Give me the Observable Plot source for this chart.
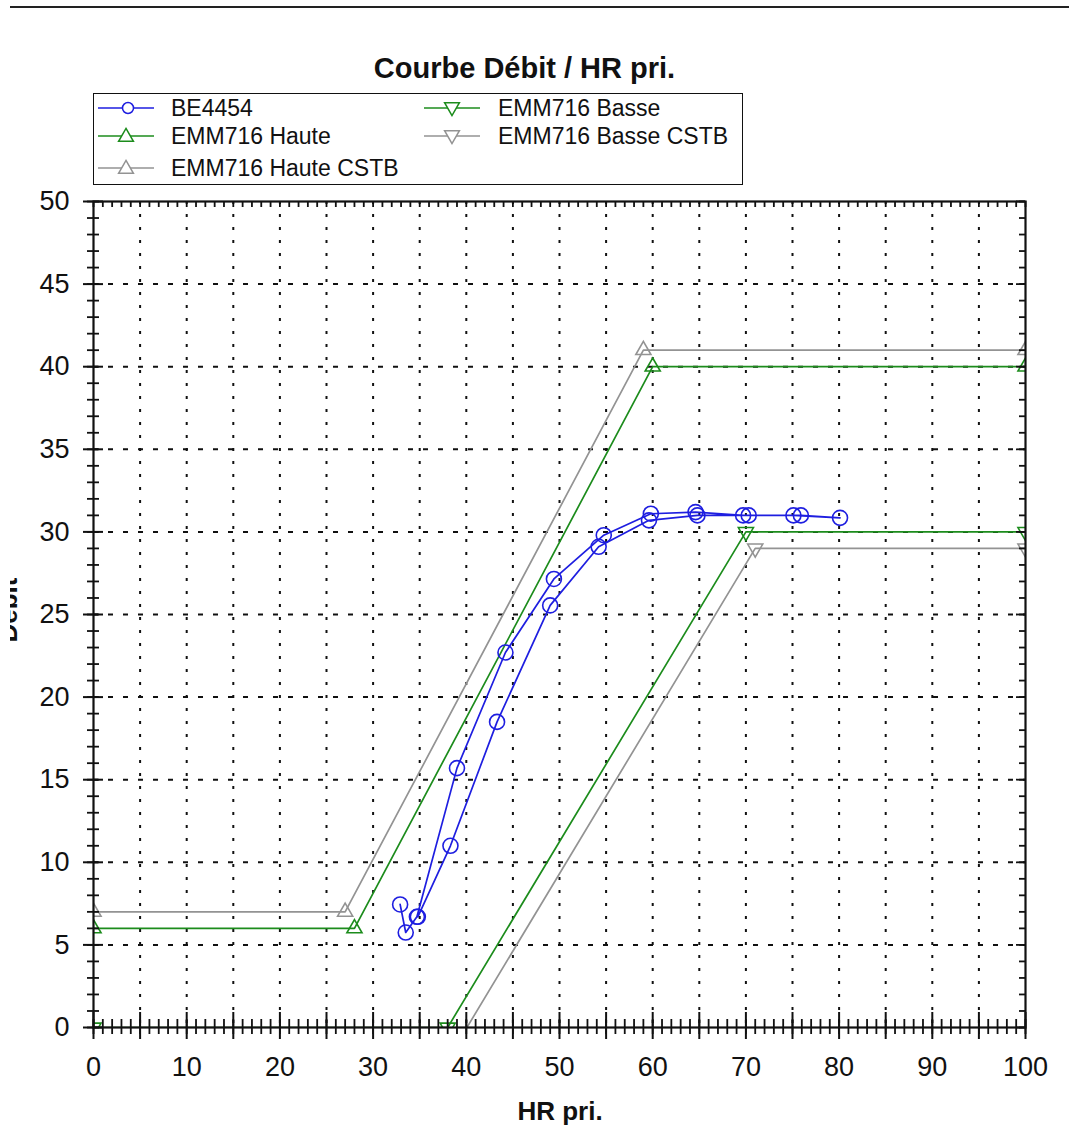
<!DOCTYPE html>
<html>
<head>
<meta charset="utf-8">
<script src="https://cdn.jsdelivr.net/npm/d3@7"></script>
<script src="https://cdn.jsdelivr.net/npm/@observablehq/plot@0.6"></script>
<style>
  html, body { margin: 0; padding: 0; background: white; }
  #wrap { position: relative; width: 1069px; height: 1138px; overflow: hidden; font-family: "Liberation Sans", Arial, sans-serif; }
  #topline { position: absolute; left: 10px; right: 0; top: 6px; height: 0; border-top: 2px solid #222; }
  #title { position: absolute; left: 0; width: 1049px; top: 52px; text-align: center; font-weight: bold; font-size: 29px; color: #111; }
  #legend { position: absolute; left: 93px; top: 93px; width: 648px; height: 90px; border: 1.6px solid #111; background: white; }
  .lg { position: absolute; font-size: 23px; color: #111; line-height: 26px; white-space: nowrap; }
  .lg svg { position: absolute; }
  #ylab { position: absolute; left: 10px; top: 560px; width: 8px; height: 100px; overflow: hidden; }
  #ylab div { position: absolute; left: -52px; top: 37px; width: 100px; height: 26px; line-height: 26px; font-size: 26px; font-weight: bold; text-align: center; transform: rotate(-90deg); color: #111; }
  #xlab { position: absolute; left: 0; width: 1120px; top: 1096px; text-align: center; font-weight: bold; font-size: 26px; color: #111; }
</style>
</head>
<body>
<div id="wrap">
  <div id="topline"></div>
  <div id="title"></div>
  <div id="legend"></div>
  <div id="ylab"><div></div></div>
  <div id="xlab"></div>
</div>
<script>
// ---- data ----
const titleText = "Courbe Débit / HR pri.";
const xLabel = "HR pri.";
const yLabel = "Débit";

const seriesNames = ["BE4454", "EMM716 Haute", "EMM716 Haute CSTB", "EMM716 Basse", "EMM716 Basse CSTB"];

const be4454X = [32.9, 33.5, 34.7, 39.0, 44.2, 49.4, 54.75, 59.8, 64.6, 69.7, 75.1, 80.1, 75.9, 70.3, 64.8, 59.6, 54.2, 49.0, 43.3, 38.3, 34.8];
const be4454Y = [7.45, 5.75, 6.7, 15.7, 22.7, 27.15, 29.8, 31.1, 31.2, 31.0, 31.0, 30.85, 31.0, 31.0, 31.0, 30.7, 29.1, 25.55, 18.5, 11.0, 6.7];

const hauteX = [0, 28, 60, 100];
const hauteY = [6, 6, 40, 40];
const hauteCstbX = [0, 27, 59, 100];
const hauteCstbY = [7, 7, 41, 41];
const basseX = [0, 38, 70, 100];
const basseY = [0, 0, 30, 30];
const basseCstbX = [0, 39, 71, 100];
const basseCstbY = [-1, -1, 29, 29];

const xTickLabels = [0, 10, 20, 30, 40, 50, 60, 70, 80, 90, 100];
const yTickLabels = [0, 5, 10, 15, 20, 25, 30, 35, 40, 45, 50];
const xMajor = d3.range(0, 101, 5);
const xMinor = d3.range(0, 101, 1);
const yMajor = d3.range(0, 51, 5);
const yMinor = d3.range(0, 51, 1);
const xGrid = d3.range(5, 100, 5);
const yGrid = d3.range(5, 50, 5);

// ---- styles ----
const BLUE = "#1e1ee0", GREEN = "#1c8c1c", GRAY = "#939393";
const W = 1069, H = 1138, mT = 201, mB = 111, mL = 93, mR = 44;
const pH = H - mT - mB, pW = W - mL - mR;

const toRows = (xs, ys) => xs.map((x, i) => ({x, y: ys[i]}));
const be = toRows(be4454X, be4454Y);
const ha = toRows(hauteX, hauteY);
const hc = toRows(hauteCstbX, hauteCstbY);
const ba = toRows(basseX, basseY);
const bc = toRows(basseCstbX, basseCstbY);

const lineOpts = (c) => ({x: "x", y: "y", stroke: c, strokeWidth: 1.7, clip: true});

const chart = Plot.plot({
  width: W, height: H,
  marginTop: mT, marginBottom: mB, marginLeft: mL, marginRight: mR,
  x: {domain: [0, 100]},
  y: {domain: [0, 50]},
  style: {fontFamily: "'Liberation Sans', Arial, sans-serif", background: "transparent", color: "#111", overflow: "visible"},
  marks: [
    Plot.ruleX(xGrid, {x: d => d, stroke: "#111", strokeWidth: 2, strokeDasharray: "3,10"}),
    Plot.ruleY(yGrid, {y: d => d, stroke: "#111", strokeWidth: 2, strokeDasharray: "5,10"}),
    Plot.line(hc, lineOpts(GRAY)),
    Plot.line(bc, lineOpts(GRAY)),
    Plot.line(ha, lineOpts(GREEN)),
    Plot.line(ba, lineOpts(GREEN)),
    Plot.dot(hc, {x: "x", y: "y", symbol: "triangle", r: 5.6, stroke: GRAY, strokeWidth: 1.6, fill: "none", clip: true}),
    Plot.dot(bc, {x: "x", y: "y", symbol: "triangle", rotate: 180, r: 5.6, stroke: GRAY, strokeWidth: 1.6, fill: "none", clip: true}),
    Plot.dot(ha, {x: "x", y: "y", symbol: "triangle", r: 5.6, stroke: GREEN, strokeWidth: 1.6, fill: "none", clip: true}),
    Plot.dot(ba, {x: "x", y: "y", symbol: "triangle", rotate: 180, r: 5.6, stroke: GREEN, strokeWidth: 1.6, fill: "none", clip: true}),
    Plot.line(be, {x: "x", y: "y", stroke: BLUE, strokeWidth: 1.7, curve: "linear"}),
    Plot.dot(be, {x: "x", y: "y", r: 7.5, stroke: BLUE, strokeWidth: 1.6, fill: "none"}),
    Plot.frame({stroke: "#111", strokeWidth: 2.2}),
    // bottom ticks (crossing)
    Plot.tickX(xMajor, {x: d => d, stroke: "#111", strokeWidth: 2, insetTop: pH - 15, insetBottom: -12}),
    Plot.tickX(xMinor, {x: d => d, stroke: "#111", strokeWidth: 1.8, insetTop: pH - 8, insetBottom: -7}),
    // top ticks (inward)
    Plot.tickX(xMinor, {x: d => d, stroke: "#111", strokeWidth: 1.8, insetBottom: pH - 6}),
    // left ticks (crossing)
    Plot.tickY(yMajor, {y: d => d, stroke: "#111", strokeWidth: 2, insetLeft: -10, insetRight: pW - 10}),
    Plot.tickY(yMinor, {y: d => d, stroke: "#111", strokeWidth: 1.8, insetLeft: -6, insetRight: pW - 6}),
    // right ticks (inward)
    Plot.tickY(yMajor, {y: d => d, stroke: "#111", strokeWidth: 1.8, insetLeft: pW - 9}),
    Plot.tickY(yMinor, {y: d => d, stroke: "#111", strokeWidth: 1.8, insetLeft: pW - 6}),
    Plot.axisX({ticks: xTickLabels, tickSize: 0, tickPadding: 29, fontSize: 27, label: null, tickFormat: d => String(d)}),
    Plot.axisY({ticks: yTickLabels, tickSize: 0, tickPadding: 24, fontSize: 27, label: null, tickFormat: d => String(d)})
  ]
});
chart.style.position = "absolute";
chart.style.left = "0px";
chart.style.top = "0px";
const wrap = document.getElementById("wrap");
wrap.insertBefore(chart, wrap.firstChild);

document.getElementById("title").textContent = titleText;
document.getElementById("xlab").textContent = xLabel;
document.querySelector("#ylab div").textContent = yLabel;

// ---- legend ----
const legendItems = [
  {name: seriesNames[0], color: BLUE, sym: "circle", col: 0, row: 0},
  {name: seriesNames[3], color: GREEN, sym: "down", col: 1, row: 0},
  {name: seriesNames[1], color: GREEN, sym: "up", col: 0, row: 1},
  {name: seriesNames[4], color: GRAY, sym: "down", col: 1, row: 1},
  {name: seriesNames[2], color: GRAY, sym: "up", col: 0, row: 2}
];
const legend = document.getElementById("legend");
const colX = [4, 330], textX = [77, 404], rowY = [14, 42, 74];
for (const it of legendItems) {
  const el = document.createElement("div");
  el.className = "lg";
  el.style.left = "0px";
  el.style.top = (rowY[it.row] - 13) + "px";
  el.style.width = "640px";
  const s = d3.create("svg").attr("width", 60).attr("height", 26)
    .style("left", colX[it.col] + "px").style("top", "0px");
  s.append("line").attr("x1", 0).attr("x2", 56).attr("y1", 13).attr("y2", 13)
    .attr("stroke", it.color).attr("stroke-width", 1.7);
  if (it.sym === "circle") {
    s.append("circle").attr("cx", 30).attr("cy", 13).attr("r", 5.5)
      .attr("fill", "white").attr("stroke", it.color).attr("stroke-width", 1.5);
  } else {
    const sym = d3.symbol(d3.symbolTriangle, 95)();
    s.append("path").attr("d", sym)
      .attr("transform", `translate(28,${it.sym === "up" ? 14 : 12}) rotate(${it.sym === "up" ? 0 : 180})`)
      .attr("fill", "white").attr("stroke", it.color).attr("stroke-width", 1.5);
  }
  el.appendChild(s.node());
  const t = document.createElement("span");
  t.textContent = it.name;
  t.style.position = "absolute";
  t.style.left = textX[it.col] + "px";
  t.style.top = "0px";
  el.appendChild(t);
  legend.appendChild(el);
}
</script>
</body>
</html>
